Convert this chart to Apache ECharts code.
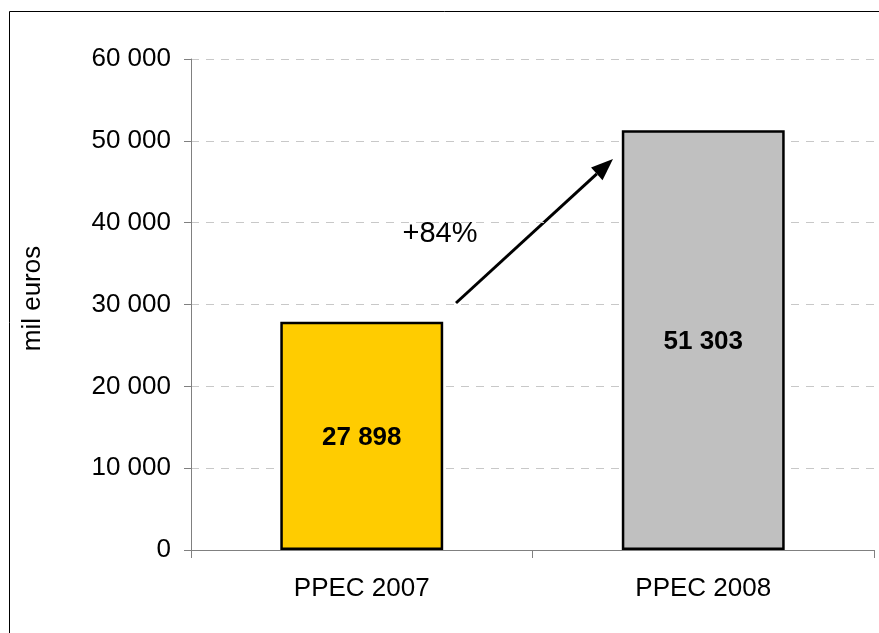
<!DOCTYPE html>
<html>
<head>
<meta charset="utf-8">
<script src="https://cdn.jsdelivr.net/npm/echarts@6/dist/echarts.min.js"></script>
<style>html,body{margin:0;padding:0;background:#fff}#c{width:879px;height:633px}</style>
</head>
<body>
<div id="c"></div>
<script>
var categories = ['PPEC 2007', 'PPEC 2008'];
var values = [27898, 51303];
var barColors = ['#FFCC00', '#C0C0C0'];
var yTicks = [0, 10000, 20000, 30000, 40000, 50000, 60000];
var growthLabel = '+84%';
var yName = 'mil euros';

function fmt(v) { return String(v).replace(/\B(?=(\d{3})+(?!\d))/g, ' '); }

var chart = echarts.init(document.getElementById('c'));
var font = 'Liberation Sans, Arial, sans-serif';

// arrow geometry
var start = [456, 303], tip = [613, 159];
var dx = tip[0] - start[0], dy = tip[1] - start[1], L = Math.sqrt(dx*dx + dy*dy);
var ux = dx / L, uy = dy / L, nx = -uy, ny = ux;
var hl = 22, hw = 8.5;
var bc = [tip[0] - hl*ux, tip[1] - hl*uy];

chart.setOption({
  animation: false,
  grid: { left: 191, right: 5, top: 59, bottom: 83, containLabel: false },
  xAxis: {
    type: 'category',
    data: categories,
    axisLine: { lineStyle: { color: '#808080', width: 1 } },
    axisTick: { show: true, length: 8, lineStyle: { color: '#808080' } },
    axisLabel: { color: '#000', fontSize: 26, fontFamily: font, margin: 26 }
  },
  yAxis: {
    type: 'value',
    min: yTicks[0], max: yTicks[yTicks.length - 1], interval: 10000,
    name: yName, nameLocation: 'middle', nameGap: 145,
    nameTextStyle: { color: '#000', fontSize: 26, fontFamily: font, padding: [0, 0, 0, 12] },
    axisLine: { show: true, lineStyle: { color: '#808080', width: 1 } },
    axisTick: { show: true, length: 7, lineStyle: { color: '#808080' } },
    axisLabel: { color: '#000', fontSize: 26, fontFamily: font, margin: 20, formatter: fmt },
    splitLine: { show: true, lineStyle: { color: '#C8C8C8', type: [8, 7], width: 1 } }
  },
  series: [{
    type: 'bar',
    barWidth: '47.7%',
    data: values.map(function (v, i) {
      return { value: v, itemStyle: { color: barColors[i], borderColor: '#000', borderWidth: 2.5 } };
    }),
    label: {
      show: true, position: 'inside', color: '#000', fontSize: 26, fontWeight: 'bold',
      fontFamily: font, offset: [0, 2], formatter: function (p) { return fmt(p.value); }
    }
  }],
  graphic: [
    { type: 'rect', shape: { x: 9.5, y: 11.5, width: 1000, height: 1000 },
      style: { fill: null, stroke: '#000', lineWidth: 1 }, silent: true },
    { type: 'line', shape: { x1: start[0], y1: start[1], x2: bc[0], y2: bc[1] },
      style: { stroke: '#000', lineWidth: 3 } },
    { type: 'polygon', shape: { points: [tip, [bc[0] + hw*nx, bc[1] + hw*ny], [bc[0] - hw*nx, bc[1] - hw*ny]] },
      style: { fill: '#000' } },
    { type: 'text', x: 440, y: 234,
      style: { text: growthLabel, fill: '#000', fontSize: 29, fontFamily: font, align: 'center', verticalAlign: 'middle' } }
  ]
});
</script>
</body>
</html>
